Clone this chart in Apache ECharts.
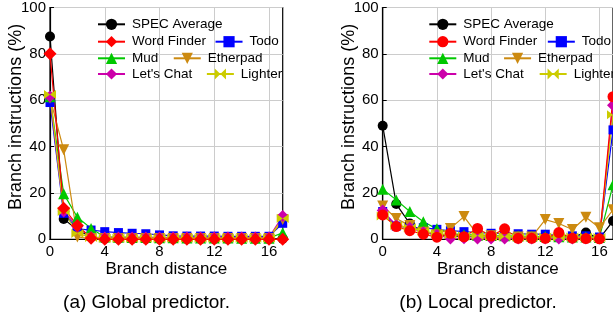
<!DOCTYPE html>
<html>
<head>
<meta charset="utf-8">
<script src="https://cdn.jsdelivr.net/npm/echarts@6/dist/echarts.min.js"></script>
<style>
  html, body { margin: 0; padding: 0; background: #fff; overflow: hidden; }
  #chart { width: 613px; height: 319px; }
</style>
</head>
<body>
<div id="chart"></div>
<script>
// branch distance 0..17
const distances = Array.from({ length: 18 }, (_, i) => String(i))
const yTicks = [0, 20, 40, 60, 80, 100]

// (a) global predictor, % of branch instructions
const globalSpec    = [87.5, 8.8, 4, 1, 0.3, 0.2, 0.1, 0.1, 0.1, 0.1, 0.1, 0.1, 0.1, 0.1, 0.1, 0.1, 0.1, 0.3]
const globalWord    = [80, 13.4, 6, 0.5, 0, 0, 0, 0, 0, 0, 0, 0, 0, 0, 0, 0, 0, 0]
const globalTodo    = [59, 11.2, 4.5, 4, 3.3, 2.9, 2.6, 2.4, 1.9, 1.5, 1.4, 1.4, 1.4, 1.3, 1.3, 1.3, 1.3, 6.9]
const globalMud     = [61.5, 19.6, 9.5, 4.7, 1, 0.9, 0.8, 0.8, 0.7, 0.7, 0.6, 0.6, 0.6, 0.6, 0.5, 0.5, 0.5, 2.8]
const globalEther   = [61, 38.6, 1, 0.3, 0.3, 0.3, 0.3, 0.3, 0.3, 0.3, 0.3, 0.3, 0.3, 0.3, 0.3, 0.3, 0.3, 8.5]
const globalChat    = [61.6, 12, 5.5, 1, 0.8, 0.8, 0.8, 0.8, 0.8, 0.8, 0.8, 0.8, 0.8, 0.8, 0.8, 0.8, 0.8, 10]
const globalLighter = [62.5, 12, 2.5, 0.8, 0.5, 0.5, 0.5, 0.5, 0.5, 0.5, 0.5, 0.5, 0.5, 0.5, 0.5, 0.5, 0.5, 9]

// (b) local predictor
const localSpec    = [49, 15.2, 6.8, 3, 2, 1.5, 1.2, 1, 1, 1, 1, 1, 1, 1, 1, 2.9, 0.3, 7.9]
const localWord    = [10.5, 5.5, 3.7, 2.2, 0.9, 2.6, 1.1, 4.7, 1.4, 4.5, 0.4, 0.4, 0.4, 2.9, 0.5, 0.3, 0.2, 61.5]
const localTodo    = [12, 5.7, 5, 5, 4.3, 3.7, 3.3, 2.9, 2.6, 2.5, 2.4, 2.2, 2.2, 1.5, 1.5, 1.5, 1, 47.2]
const localMud     = [21.6, 17, 12, 7.6, 4.5, 2.5, 2, 1.8, 1.6, 1.5, 1.4, 1.3, 1.2, 1.1, 1, 1, 0.8, 23.5]
const localEther   = [14.4, 9, 5.9, 3, 2, 4.7, 9.8, 2, 1.5, 0.3, 1, 1, 8.5, 6.8, 4.2, 9.5, 5, 12.7]
const localChat    = [12.4, 6, 5, 3, 2, 0.3, 0.5, 0.3, 0.3, 0.3, 0.3, 0.3, 0.3, 0.3, 0.3, 0.3, 0.3, 57.8]
const localLighter = [10, 6, 5, 3.5, 2.5, 2, 1.5, 1.5, 1.2, 1.2, 1, 1, 1, 1, 1, 1, 0.8, 53.7]

const FONT = '"Liberation Sans", Arial, sans-serif'
const bowtie = 'path://M0,0L10,5L0,10ZM20,0L10,5L20,10Z'
// local Word Finder uses circles, so it gets its own series name (suffix hidden in legend)
const LOCAL_WORD = 'Word Finder (b)'

const styles = {
  'SPEC Average': { color: '#000000', symbol: 'circle', size: 10 },
  'Word Finder': { color: '#ff0000', symbol: 'diamond', size: 13 },
  [LOCAL_WORD]: { color: '#ff0000', symbol: 'circle', size: 11 },
  'Todo': { color: '#0000ff', symbol: 'rect', size: 9 },
  'Mud': { color: '#00c800', symbol: 'triangle', size: 11 },
  'Etherpad': { color: '#cc8a10', symbol: 'triangle', size: 11, rotate: 180 },
  "Let's Chat": { color: '#cc00aa', symbol: 'diamond', size: 12 },
  'Lighter': { color: '#cccc00', symbol: bowtie, size: [12, 9] }
}

const makeSeries = (name, data, gridIdx) => {
  const s = styles[name]
  return {
    name,
    type: 'line',
    xAxisIndex: gridIdx,
    yAxisIndex: gridIdx,
    data,
    symbol: s.symbol,
    symbolSize: s.size,
    symbolRotate: s.rotate || 0,
    showAllSymbol: true,
    animation: false,
    itemStyle: { color: s.color },
    lineStyle: { color: s.color, width: 1.2 }
  }
}

const xAxis = (gridIdx) => ({
  type: 'category',
  gridIndex: gridIdx,
  data: distances,
  boundaryGap: false,
  name: 'Branch distance',
  nameLocation: 'middle',
  nameGap: 22,
  nameMoveOverlap: false,
  nameTextStyle: { fontFamily: FONT, fontSize: 17, color: '#000' },
  axisLine: { lineStyle: { color: '#000', width: 1.2 } },
  axisTick: { inside: true, length: 4, interval: 3, lineStyle: { color: '#000' } },
  axisLabel: { interval: 3, margin: 5, fontFamily: FONT, fontSize: 15, color: '#000' },
  splitLine: { show: true, interval: 3, lineStyle: { color: '#cccccc', width: 1 } }
})

const yAxis = (gridIdx) => ({
  type: 'value',
  gridIndex: gridIdx,
  min: yTicks[0],
  max: yTicks[yTicks.length - 1],
  interval: 20,
  name: 'Branch instructions (%)',
  nameLocation: 'middle',
  nameGap: 25,
  nameRotate: 90,
  nameMoveOverlap: false,
  nameTextStyle: { fontFamily: FONT, fontSize: 18, color: '#000', padding: [0, 0, 0, 13] },
  axisLine: { show: true, lineStyle: { color: '#000', width: 1.2 } },
  axisTick: { show: true, inside: true, length: 4, lineStyle: { color: '#000' } },
  axisLabel: { margin: 4, fontFamily: FONT, fontSize: 15, color: '#000' },
  splitLine: { show: true, lineStyle: { color: '#cccccc', width: 1 } }
})

// one legend per row, like the gnuplot key
const legendRow = (left, top, gap, items) => ({
  left, top,
  width: 260,
  padding: 0,
  itemGap: gap,
  itemWidth: 27,
  itemHeight: 14,
  selectedMode: false,
  formatter: (name) => name.replace(' (b)', ''),
  textStyle: { fontFamily: FONT, fontSize: 13.5, color: '#000', padding: [0, 0, 0, 2] },
  data: items
})

const legendsFor = (left, wordName, gaps) => [
  legendRow(left, 17.3, 10, ['SPEC Average']),
  legendRow(left, 34.7, gaps[0], [wordName, 'Todo']),
  legendRow(left, 51.3, gaps[1], ['Mud', 'Etherpad']),
  legendRow(left, 67, gaps[2], ["Let's Chat", 'Lighter'])
]

const chart = echarts.init(document.getElementById('chart'))

chart.setOption({
  animation: false,
  grid: [
    { left: 50, top: 7.3, width: 232.7, height: 232, show: true, borderColor: '#000', borderWidth: 1.2 },
    { left: 382.7, top: 7.3, width: 232.7, height: 232, show: true, borderColor: '#000', borderWidth: 1.2 }
  ],
  xAxis: [xAxis(0), xAxis(1)],
  yAxis: [yAxis(0), yAxis(1)],
  legend: [
    ...legendsFor(97, 'Word Finder', [8.5, 14.5, 13.5]),
    ...legendsFor(428.3, LOCAL_WORD, [9.5, 13.5, 15])
  ],
  series: [
    makeSeries('SPEC Average', globalSpec, 0),
    makeSeries('Todo', globalTodo, 0),
    makeSeries('Mud', globalMud, 0),
    makeSeries('Etherpad', globalEther, 0),
    makeSeries("Let's Chat", globalChat, 0),
    makeSeries('Lighter', globalLighter, 0),
    makeSeries('Word Finder', globalWord, 0),

    makeSeries('SPEC Average', localSpec, 1),
    makeSeries('Todo', localTodo, 1),
    makeSeries('Mud', localMud, 1),
    makeSeries('Etherpad', localEther, 1),
    makeSeries("Let's Chat", localChat, 1),
    makeSeries('Lighter', localLighter, 1),
    makeSeries(LOCAL_WORD, localWord, 1)
  ],
  graphic: [
    { type: 'text', x: 146.5, y: 303, style: { text: '(a) Global predictor.', font: '19px ' + FONT, fill: '#000', align: 'center', verticalAlign: 'middle' } },
    { type: 'text', x: 478, y: 303, style: { text: '(b) Local predictor.', font: '19px ' + FONT, fill: '#000', align: 'center', verticalAlign: 'middle' } }
  ]
})

window.addEventListener('resize', () => chart.resize())
</script>
</body>
</html>
